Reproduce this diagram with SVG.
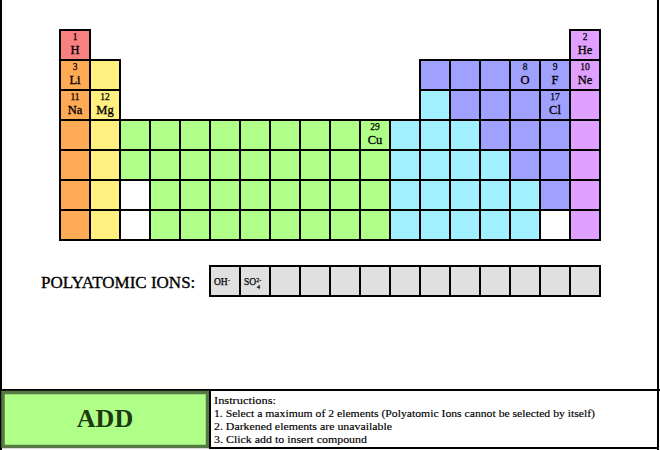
<svg xmlns="http://www.w3.org/2000/svg" width="660" height="450" viewBox="0 0 660 450">
<style>
.c{stroke:#000;stroke-width:2}
.pk{fill:#f88080}.or{fill:#ffaa55}.ye{fill:#fff080}.gr{fill:#b0ff88}.cy{fill:#a0f0ff}.pu{fill:#a0a0ff}.vi{fill:#e0a0ff}.wh{fill:#fff}.io{fill:#e0e0e0}
text{font-family:"Liberation Serif","DejaVu Serif",serif;fill:#000}
.n{font-size:9.5px;text-anchor:middle;stroke:#000;stroke-width:0.25}
.s{font-size:12.5px;text-anchor:middle;stroke:#000;stroke-width:0.3}
.ion{font-size:9.5px;stroke:#000;stroke-width:0.25}
.ins{font-size:11px;stroke:#000;stroke-width:0.15}
.lbl{font-size:17px;stroke:#000;stroke-width:0.35}
</style>
<rect width="660" height="450" fill="#fff"/>
<g id="frame" stroke="#000" stroke-width="2">
<line x1="1" y1="0" x2="1" y2="450"/>
<line x1="658" y1="0" x2="658" y2="450"/>
<line x1="0" y1="390" x2="660" y2="390"/>
</g>
<g id="table">
<rect class="c pk" x="60" y="30" width="30" height="30"/>
<rect class="c vi" x="570" y="30" width="30" height="30"/>
<rect class="c or" x="60" y="60" width="30" height="30"/>
<rect class="c ye" x="90" y="60" width="30" height="30"/>
<rect class="c pu" x="420" y="60" width="30" height="30"/>
<rect class="c pu" x="450" y="60" width="30" height="30"/>
<rect class="c pu" x="480" y="60" width="30" height="30"/>
<rect class="c pu" x="510" y="60" width="30" height="30"/>
<rect class="c pu" x="540" y="60" width="30" height="30"/>
<rect class="c vi" x="570" y="60" width="30" height="30"/>
<rect class="c or" x="60" y="90" width="30" height="30"/>
<rect class="c ye" x="90" y="90" width="30" height="30"/>
<rect class="c cy" x="420" y="90" width="30" height="30"/>
<rect class="c pu" x="450" y="90" width="30" height="30"/>
<rect class="c pu" x="480" y="90" width="30" height="30"/>
<rect class="c pu" x="510" y="90" width="30" height="30"/>
<rect class="c pu" x="540" y="90" width="30" height="30"/>
<rect class="c vi" x="570" y="90" width="30" height="30"/>
<rect class="c or" x="60" y="120" width="30" height="30"/>
<rect class="c ye" x="90" y="120" width="30" height="30"/>
<rect class="c gr" x="120" y="120" width="30" height="30"/>
<rect class="c gr" x="150" y="120" width="30" height="30"/>
<rect class="c gr" x="180" y="120" width="30" height="30"/>
<rect class="c gr" x="210" y="120" width="30" height="30"/>
<rect class="c gr" x="240" y="120" width="30" height="30"/>
<rect class="c gr" x="270" y="120" width="30" height="30"/>
<rect class="c gr" x="300" y="120" width="30" height="30"/>
<rect class="c gr" x="330" y="120" width="30" height="30"/>
<rect class="c gr" x="360" y="120" width="30" height="30"/>
<rect class="c cy" x="390" y="120" width="30" height="30"/>
<rect class="c cy" x="420" y="120" width="30" height="30"/>
<rect class="c cy" x="450" y="120" width="30" height="30"/>
<rect class="c pu" x="480" y="120" width="30" height="30"/>
<rect class="c pu" x="510" y="120" width="30" height="30"/>
<rect class="c pu" x="540" y="120" width="30" height="30"/>
<rect class="c vi" x="570" y="120" width="30" height="30"/>
<rect class="c or" x="60" y="150" width="30" height="30"/>
<rect class="c ye" x="90" y="150" width="30" height="30"/>
<rect class="c gr" x="120" y="150" width="30" height="30"/>
<rect class="c gr" x="150" y="150" width="30" height="30"/>
<rect class="c gr" x="180" y="150" width="30" height="30"/>
<rect class="c gr" x="210" y="150" width="30" height="30"/>
<rect class="c gr" x="240" y="150" width="30" height="30"/>
<rect class="c gr" x="270" y="150" width="30" height="30"/>
<rect class="c gr" x="300" y="150" width="30" height="30"/>
<rect class="c gr" x="330" y="150" width="30" height="30"/>
<rect class="c gr" x="360" y="150" width="30" height="30"/>
<rect class="c cy" x="390" y="150" width="30" height="30"/>
<rect class="c cy" x="420" y="150" width="30" height="30"/>
<rect class="c cy" x="450" y="150" width="30" height="30"/>
<rect class="c cy" x="480" y="150" width="30" height="30"/>
<rect class="c pu" x="510" y="150" width="30" height="30"/>
<rect class="c pu" x="540" y="150" width="30" height="30"/>
<rect class="c vi" x="570" y="150" width="30" height="30"/>
<rect class="c or" x="60" y="180" width="30" height="30"/>
<rect class="c ye" x="90" y="180" width="30" height="30"/>
<rect class="c wh" x="120" y="180" width="30" height="30"/>
<rect class="c gr" x="150" y="180" width="30" height="30"/>
<rect class="c gr" x="180" y="180" width="30" height="30"/>
<rect class="c gr" x="210" y="180" width="30" height="30"/>
<rect class="c gr" x="240" y="180" width="30" height="30"/>
<rect class="c gr" x="270" y="180" width="30" height="30"/>
<rect class="c gr" x="300" y="180" width="30" height="30"/>
<rect class="c gr" x="330" y="180" width="30" height="30"/>
<rect class="c gr" x="360" y="180" width="30" height="30"/>
<rect class="c cy" x="390" y="180" width="30" height="30"/>
<rect class="c cy" x="420" y="180" width="30" height="30"/>
<rect class="c cy" x="450" y="180" width="30" height="30"/>
<rect class="c cy" x="480" y="180" width="30" height="30"/>
<rect class="c cy" x="510" y="180" width="30" height="30"/>
<rect class="c pu" x="540" y="180" width="30" height="30"/>
<rect class="c vi" x="570" y="180" width="30" height="30"/>
<rect class="c or" x="60" y="210" width="30" height="30"/>
<rect class="c ye" x="90" y="210" width="30" height="30"/>
<rect class="c wh" x="120" y="210" width="30" height="30"/>
<rect class="c gr" x="150" y="210" width="30" height="30"/>
<rect class="c gr" x="180" y="210" width="30" height="30"/>
<rect class="c gr" x="210" y="210" width="30" height="30"/>
<rect class="c gr" x="240" y="210" width="30" height="30"/>
<rect class="c gr" x="270" y="210" width="30" height="30"/>
<rect class="c gr" x="300" y="210" width="30" height="30"/>
<rect class="c gr" x="330" y="210" width="30" height="30"/>
<rect class="c gr" x="360" y="210" width="30" height="30"/>
<rect class="c cy" x="390" y="210" width="30" height="30"/>
<rect class="c cy" x="420" y="210" width="30" height="30"/>
<rect class="c cy" x="450" y="210" width="30" height="30"/>
<rect class="c cy" x="480" y="210" width="30" height="30"/>
<rect class="c cy" x="510" y="210" width="30" height="30"/>
<rect class="c wh" x="540" y="210" width="30" height="30"/>
<rect class="c vi" x="570" y="210" width="30" height="30"/>
</g>
<g id="el-H"><text class="n" x="75" y="40">1</text><text class="s" x="75" y="53.5">H</text></g>
<g id="el-He"><text class="n" x="585" y="40">2</text><text class="s" x="585" y="53.5">He</text></g>
<g id="el-Li"><text class="n" x="75" y="70">3</text><text class="s" x="75" y="83.5">Li</text></g>
<g id="el-O"><text class="n" x="525" y="70">8</text><text class="s" x="525" y="83.5">O</text></g>
<g id="el-F"><text class="n" x="555" y="70">9</text><text class="s" x="555" y="83.5">F</text></g>
<g id="el-Ne"><text class="n" x="585" y="70">10</text><text class="s" x="585" y="83.5">Ne</text></g>
<g id="el-Na"><text class="n" x="75" y="100">11</text><text class="s" x="75" y="113.5">Na</text></g>
<g id="el-Mg"><text class="n" x="105" y="100">12</text><text class="s" x="105" y="113.5">Mg</text></g>
<g id="el-Cl"><text class="n" x="555" y="100">17</text><text class="s" x="555" y="113.5">Cl</text></g>
<g id="el-Cu"><text class="n" x="375" y="130">29</text><text class="s" x="375" y="143.5">Cu</text></g>
<g id="ions">
<text class="lbl" x="41" y="288">POLYATOMIC IONS:</text>
<rect class="c io" x="210" y="266" width="30" height="30"/>
<rect class="c io" x="240" y="266" width="30" height="30"/>
<rect class="c io" x="270" y="266" width="30" height="30"/>
<rect class="c io" x="300" y="266" width="30" height="30"/>
<rect class="c io" x="330" y="266" width="30" height="30"/>
<rect class="c io" x="360" y="266" width="30" height="30"/>
<rect class="c io" x="390" y="266" width="30" height="30"/>
<rect class="c io" x="420" y="266" width="30" height="30"/>
<rect class="c io" x="450" y="266" width="30" height="30"/>
<rect class="c io" x="480" y="266" width="30" height="30"/>
<rect class="c io" x="510" y="266" width="30" height="30"/>
<rect class="c io" x="540" y="266" width="30" height="30"/>
<rect class="c io" x="570" y="266" width="30" height="30"/>
<g id="ion-OH"><text class="ion" x="214" y="285">OH<tspan font-size="6.5" dy="-3.5">-</tspan></text></g>
<g id="ion-SO4"><text class="ion" x="244" y="285">SO<tspan font-size="6" dy="-3.5">2-</tspan><tspan font-size="6" x="257" dy="7">4</tspan></text></g>
</g>
<g id="add-button">
<rect x="3" y="392.5" width="204.5" height="54" fill="#b0ff88" stroke="#567a46" stroke-width="3.5"/>
<text x="105" y="427" font-size="26" font-weight="bold" text-anchor="middle" style="fill:#1c3a10">ADD</text>
</g>
<g id="instructions">
<rect x="210" y="390" width="448" height="58" fill="#fff" stroke="#000" stroke-width="2"/>
<text class="ins" x="214" y="404" textLength="62" lengthAdjust="spacingAndGlyphs">Instructions:</text>
<text class="ins" x="214" y="416.5" textLength="381" lengthAdjust="spacingAndGlyphs">1. Select a maximum of 2 elements (Polyatomic Ions cannot be selected by itself)</text>
<text class="ins" x="214" y="429.5" textLength="178" lengthAdjust="spacingAndGlyphs">2. Darkened elements are unavailable</text>
<text class="ins" x="214" y="442.5" textLength="153" lengthAdjust="spacingAndGlyphs">3. Click add to insert compound</text>
</g>
</svg>
